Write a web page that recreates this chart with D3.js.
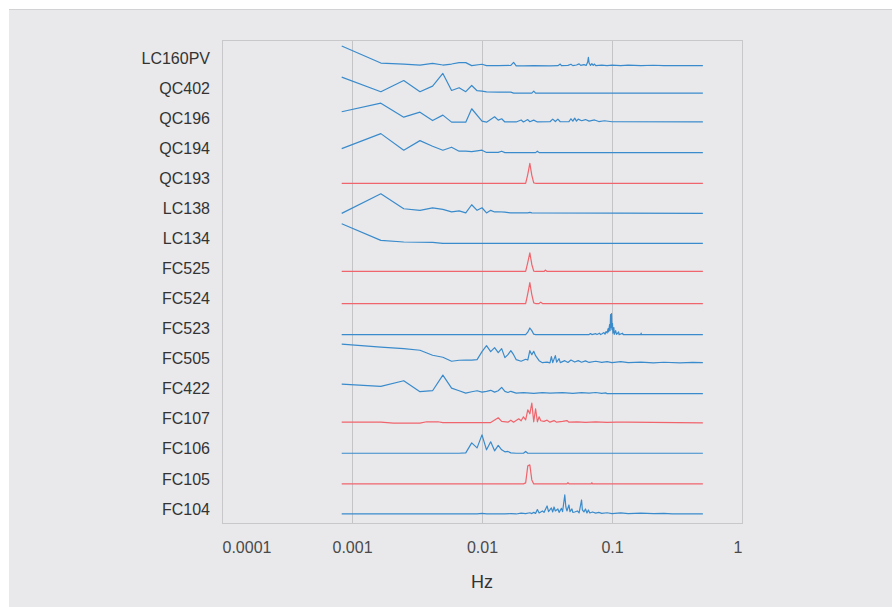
<!DOCTYPE html>
<html>
<head>
<meta charset="utf-8">
<script src="https://cdn.jsdelivr.net/npm/d3@7"></script>
<style>
  html, body { margin: 0; padding: 0; background: #ffffff; }
  svg { display: block; font-family: "Liberation Sans", Arial, Helvetica, sans-serif; }
</style>
</head>
<body>
<svg id="chart" width="892" height="607"></svg>
<script>
// ---------------- data ----------------
// Spectral window length in seconds: frequency (Hz) = bin / WINDOW_SECONDS
const WINDOW_SECONDS = 1200;

const rows = ["LC160PV","QC402","QC196","QC194","QC193","LC138","LC134","FC525",
              "FC524","FC523","FC505","FC422","FC107","FC106","FC105","FC104"];
const redRows = ["QC193","FC525","FC524","FC107","FC105"];

const tickValues = [0.0001, 0.001, 0.01, 0.1, 1];
const tickLabels = ["0.0001", "0.001", "0.01", "0.1", "1"];
const gridValues = [0.001, 0.01, 0.1];
const xTitle = "Hz";

// each series: [bin, relative amplitude]
const LC160PV = [[1,0.85],[2,0.0],[3,-0.05],[4,-0.1],[5,-0.02],[6,-0.1],[7,-0.05],[8,0.02],[9,0.02],[10,-0.13],[12,-0.06],[13,-0.13],[16,-0.13],[20,-0.12],[21,0.03],[22,-0.14],[25,-0.14],[30,-0.13],[40,-0.14],[46,-0.13],[48,-0.05],[49,-0.13],[55,-0.12],[58,-0.06],[60,-0.13],[64,-0.1],[67,-0.04],[69,-0.12],[73,-0.08],[76,-0.12],[78,0.05],[79,0.28],[80,0.0],[82,-0.12],[84,-0.03],[86,-0.12],[88,-0.05],[90,-0.13],[100,-0.1],[110,-0.13],[120,-0.1],[140,-0.13],[160,-0.1],[200,-0.13],[250,-0.11],[300,-0.13],[400,-0.13],[600,-0.13]];
const QC402 = [[1,0.8],[2,0.07],[3,0.63],[4,0.07],[5,0.35],[6,0.98],[7,0.13],[8,0.27],[9,0.07],[10,0.38],[11,0.12],[12,0.1],[13,0.06],[16,0.05],[20,0.05],[21,0.0],[29,0.0],[30,0.1],[31,0.0],[600,0.0]];
const QC196 = [[1,0.57],[2,1.0],[3,0.3],[4,0.55],[5,0.13],[6,0.4],[7,0.05],[9,0.05],[10,0.72],[12,0.1],[13,0.05],[15,0.32],[16,0.15],[17,0.22],[18,0.06],[22,0.06],[24,0.16],[25,0.06],[27,0.18],[28,0.07],[30,0.15],[32,0.06],[40,0.07],[42,0.2],[44,0.08],[46,0.2],[48,0.07],[56,0.08],[58,0.22],[60,0.1],[62,0.25],[64,0.1],[66,0.2],[70,0.12],[75,0.18],[80,0.1],[88,0.16],[95,0.08],[105,0.12],[120,0.07],[600,0.06]];
const QC194 = [[1,0.23],[2,0.98],[3,0.15],[4,0.63],[5,0.35],[6,0.15],[7,0.3],[8,0.1],[9,0.1],[10,0.08],[11,0.12],[12,0.15],[13,0.04],[16,0.04],[17,0.1],[18,0.03],[31,0.03],[32,0.1],[33,0.03],[600,0.03]];
const QC193 = [[1,0],[26,0],[27,0.45],[28,1.0],[29,0.4],[30,0.02],[31,0],[600,0]];
const LC138 = [[1,0.0],[2,0.98],[3,0.23],[4,0.15],[5,0.27],[6,0.2],[7,0.07],[8,0.12],[9,0.02],[10,0.43],[11,0.15],[12,0.28],[13,0.02],[14,0.15],[15,0.07],[16,0.08],[18,0.06],[20,0.02],[27,0.02],[28,0.05],[29,0.02],[600,0.0]];
const LC134 = [[1,0.98],[2,0.15],[3,0.07],[5,0.05],[6,0.0],[600,0.0]];
const FC525 = [[1,0.1],[26,0.1],[27,0.55],[28,1.03],[29,0.45],[30,0.12],[31,0.1],[36,0.1],[37,0.17],[38,0.1],[600,0.1]];
const FC524 = [[1,0],[26,0],[27,0.5],[28,1.05],[29,0.45],[30,0.03],[31,0],[33,0],[34,0.07],[35,0],[600,0]];
const FC523 = [[1,-0.05],[26,-0.05],[27,0.07],[28,0.28],[29,0.15],[30,-0.03],[31,-0.05],[80,-0.05],[82,0.0],[84,-0.05],[90,0.0],[92,-0.05],[96,0.02],[98,-0.05],[100,-0.02],[104,0.05],[106,-0.03],[108,0.1],[110,0.03],[112,0.25],[113,0.08],[115,0.45],[116,0.15],[117,0.95],[118,0.3],[119,1.0],[120,0.2],[121,0.5],[122,0.02],[124,0.3],[125,-0.04],[128,0.15],[130,-0.04],[135,0.08],[136,-0.05],[145,0.02],[146,-0.05],[200,-0.05],[201,0.02],[202,-0.05],[600,-0.05]];
const FC505 = [[1,0.98],[2,0.83],[3,0.75],[4,0.67],[5,0.42],[6,0.32],[7,0.12],[8,0.17],[9,0.18],[10,0.18],[11,0.2],[12,0.6],[13,0.9],[14,0.6],[15,0.8],[16,0.55],[17,0.75],[18,0.3],[19,0.45],[20,0.65],[21,0.45],[22,0.2],[24,0.12],[26,0.22],[27,0.18],[28,0.65],[29,0.45],[30,0.62],[31,0.4],[33,0.15],[35,0.05],[38,0.08],[40,0.04],[41,0.35],[42,0.05],[44,0.4],[45,0.08],[47,0.25],[48,0.05],[52,0.15],[55,0.06],[58,0.18],[62,0.08],[66,0.15],[70,0.07],[75,0.14],[80,0.06],[90,0.12],[100,0.06],[110,0.1],[120,0.05],[140,0.1],[160,0.05],[200,0.08],[250,0.04],[300,0.07],[400,0.04],[500,0.06],[600,0.05]];
const FC422 = [[1,0.48],[2,0.37],[3,0.65],[4,0.1],[5,0.15],[6,0.93],[7,0.28],[8,0.15],[9,0.03],[10,0.1],[11,0.15],[12,0.08],[13,0.12],[14,0.17],[15,0.08],[16,0.15],[17,0.32],[18,0.12],[19,0.06],[20,0.12],[22,0.03],[25,0.05],[30,0.02],[35,0.05],[40,0.03],[50,0.05],[60,0.02],[70,0.05],[80,0.03],[90,0.06],[100,0.02],[108,0.04],[110,0.0],[600,0.0]];
const FC107 = [[1,0.08],[2,0.08],[2.5,0.03],[4,0.03],[4.5,0.1],[5.5,0.1],[6,0.06],[14,0.06],[16,0.3],[17,0.12],[19,0.08],[20,0.18],[21,0.08],[23,0.25],[24,0.15],[25,0.35],[26,0.2],[27,0.7],[28,0.5],[29,1.03],[30,0.1],[31,0.75],[32,0.1],[33,0.35],[34,0.15],[36,0.12],[38,0.18],[40,0.08],[43,0.16],[45,0.08],[50,0.12],[54,0.16],[56,0.08],[65,0.1],[75,0.07],[90,0.1],[110,0.07],[130,0.08],[156,0.08],[600,0.05]];
const FC106 = [[1,0.03],[8,0.03],[9,0.05],[10,0.55],[11,0.3],[12,0.95],[13,0.2],[14,0.6],[15,0.15],[16,0.42],[17,0.2],[18,0.1],[19,0.12],[20,0.05],[22,0.03],[25,0.03],[26,0.12],[27,0.03],[600,0.03]];
const FC105 = [[1,0],[25,0],[26,0.05],[27,0.9],[28,0.95],[29,0.2],[30,0],[54,0],[55,0.06],[56,0],[83,0],[84,0.06],[85,0],[600,0]];
const FC104 = [[1,0],[11,0],[12,0.03],[13,0],[18,0],[20,0.02],[22,0],[24,0.04],[26,0.02],[28,0.06],[29,0.02],[30,0.08],[31,0.03],[32,0.22],[33,0.05],[35,0.15],[36,0.08],[38,0.4],[39,0.12],[41,0.3],[42,0.1],[43,0.35],[44,0.15],[46,0.25],[47,0.08],[49,0.28],[50,0.12],[52,0.95],[53,0.35],[54,0.15],[56,0.45],[57,0.12],[59,0.25],[60,0.08],[62,0.1],[65,0.15],[67,0.05],[70,0.7],[71,0.2],[73,0.1],[75,0.25],[77,0.05],[79,0.2],[81,0.05],[85,0.1],[90,0.04],[95,0.08],[100,0.03],[110,0.06],[120,0.02],[140,0.05],[160,0.02],[200,0.04],[250,0.02],[300,0.03],[350,0.0],[600,0.0]];

const seriesByRow = { LC160PV, QC402, QC196, QC194, QC193, LC138, LC134, FC525,
                      FC524, FC523, FC505, FC422, FC107, FC106, FC105, FC104 };

// ---------------- drawing ----------------
const svg = d3.select("#chart");
const W = 892, H = 607;
const plot = { left: 222, right: 742, top: 40, bottom: 523 };

// outer panel background
svg.append("rect").attr("x", 9).attr("y", 9).attr("width", W - 9).attr("height", H - 9)
   .attr("fill", "#e9e9ec");
svg.append("line").attr("x1", 9).attr("x2", W).attr("y1", 9.5).attr("y2", 9.5)
   .attr("stroke", "#d2d2d4").attr("stroke-width", 1);

const x = d3.scaleLog().domain([tickValues[0], tickValues[tickValues.length - 1]])
            .range([plot.left, plot.right]);
const yBand = d3.scaleBand().domain(rows).range([43, 524]);
const amp = d3.scaleLinear().domain([0, 1]).range([0, -20]);
const rowCenter = r => yBand(r) + yBand.step() / 2;
const rowBase = r => rowCenter(r) + 5;

// gridlines
svg.append("g").selectAll("line").data(gridValues).join("line")
   .attr("x1", d => Math.round(x(d)) + 0.5).attr("x2", d => Math.round(x(d)) + 0.5)
   .attr("y1", plot.top).attr("y2", plot.bottom)
   .attr("stroke", "#c4c4c7").attr("stroke-width", 1);

// plot border
svg.append("rect").attr("x", plot.left + 0.5).attr("y", plot.top + 0.5)
   .attr("width", plot.right - plot.left).attr("height", plot.bottom - plot.top)
   .attr("fill", "none").attr("stroke", "#c8c8cb").attr("stroke-width", 1);

// lines
const line = d3.line().x(d => x(d[0] / WINDOW_SECONDS)).y(d => d[1]);
const lineG = svg.append("g");
rows.forEach(r => {
  const base = rowBase(r);
  const pts = seriesByRow[r].map(d => [d[0], base + amp(d[1])]);
  const isRed = redRows.includes(r);
  lineG.append("path").datum(pts)
    .attr("d", line)
    .attr("fill", "none")
    .attr("stroke", isRed ? "#f0646c" : "#3a8bcb")
    .attr("stroke-width", 1.2)
    .attr("stroke-linejoin", "round");
});

// row labels
svg.append("g").selectAll("text").data(rows).join("text")
   .attr("x", 210).attr("y", d => rowCenter(d)).attr("dy", "0.35em")
   .attr("text-anchor", "end").attr("font-size", 16).attr("fill", "#333333")
   .text(d => d);

// x axis
const xAxis = d3.axisBottom(x).tickValues(tickValues)
   .tickFormat((d, i) => tickLabels[i]).tickSize(0).tickPadding(19);
const ax = svg.append("g").attr("transform", `translate(0,${plot.bottom})`).call(xAxis);
ax.select(".domain").remove();
ax.selectAll("text").attr("font-size", 16).attr("fill", "#4a4a4a")
  .attr("font-family", "Liberation Sans, Arial, sans-serif")
  .attr("text-anchor", (d, i) => i === 0 ? "start" : (i === tickValues.length - 1 ? "end" : "middle"));

// x title
svg.append("text").attr("x", (plot.left + plot.right) / 2).attr("y", 588)
   .attr("text-anchor", "middle").attr("font-size", 18).attr("fill", "#333333")
   .text(xTitle);
</script>
</body>
</html>
